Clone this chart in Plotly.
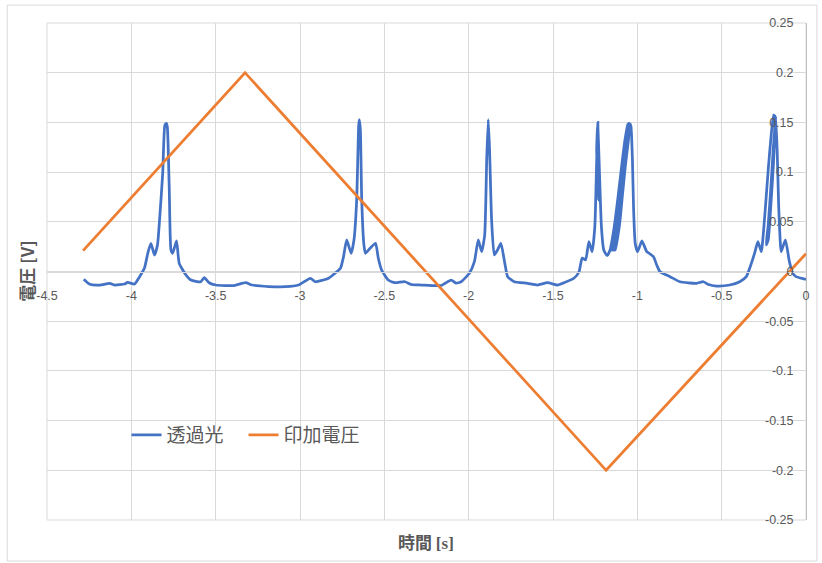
import plotly.graph_objects as go

# 透過光: time [s] and detector voltage [V]
light_t = [
    -4.282, -4.246, -4.187, -4.128, -4.099, -4.040, -4.022, -3.981,
    -3.951, -3.922, -3.902, -3.884, -3.863, -3.845, -3.834, -3.814,
    -3.801, -3.792, -3.786, -3.775, -3.765, -3.755, -3.732, -3.716,
    -3.676, -3.647, -3.588, -3.568, -3.539, -3.499, -3.391, -3.322,
    -3.285, -3.185, -3.086, -3.008, -2.939, -2.909, -2.831, -2.784,
    -2.760, -2.742, -2.723, -2.697, -2.680, -2.664, -2.652, -2.648,
    -2.642, -2.634, -2.621, -2.612, -2.583, -2.552, -2.536, -2.516,
    -2.477, -2.437, -2.378, -2.341, -2.281, -2.163, -2.104, -2.076,
    -2.045, -1.996, -1.966, -1.943, -1.923, -1.905, -1.893, -1.884,
    -1.876, -1.864, -1.848, -1.829, -1.809, -1.787, -1.769, -1.730,
    -1.651, -1.592, -1.533, -1.474, -1.435, -1.376, -1.346, -1.327,
    -1.307, -1.287, -1.268, -1.252, -1.241, -1.234, -1.229, -1.241,
    -1.235, -1.223, -1.213, -1.199, -1.179,
    # broad peak near -1.06 s (several overlapping sweeps)
    -1.1618, -1.1353, -1.1129, -1.0922, -1.0734, -1.0557,
    -1.0527, -1.0682, -1.0868, -1.1067, -1.1279, -1.1545,
    -1.1471, -1.1206, -1.1005, -1.0813, -1.0630, -1.0498,
    -1.0468, -1.0578, -1.0758, -1.0943, -1.1132, -1.1397,
    -1.1323, -1.1058, -1.0882, -1.0705, -1.0527, -1.0439,
    -1.0380, -1.0291, -1.0221, -1.0126, -0.9985,
    -0.973, -0.944, -0.924, -0.904, -0.885, -0.865, -0.806, -0.747,
    -0.649, -0.609, -0.578, -0.531, -0.452, -0.393, -0.354, -0.324,
    -0.305, -0.285, -0.265,
    # peak near -0.19 s
    -0.2590, -0.2418, -0.2241, -0.2064, -0.1917,
    -0.1828, -0.1946, -0.2094, -0.2241, -0.2359,
    -0.2241, -0.2064, -0.1917, -0.1828, -0.1799,
    -0.1710, -0.1622, -0.1533, -0.1474,
    -0.1221, -0.0985, -0.0784, -0.0590, -0.0100, 0.0,
]
light_v = [
    -0.0078, -0.0129, -0.0136, -0.0120, -0.0136, -0.0126, -0.0109, -0.0126,
    -0.0052, 0.0035, 0.0186, 0.0284, 0.0166, 0.0267, 0.0485, 0.0988,
    0.1474, 0.1490, 0.1444, 0.0820, 0.0216, 0.0183, 0.0307, 0.0082,
    -0.0035, -0.0086, -0.0103, -0.0062, -0.0113, -0.0136, -0.0141, -0.0113,
    -0.0136, -0.0151, -0.0153, -0.0136, -0.0068, -0.0103, -0.0068, -0.0005,
    0.0032, 0.0149, 0.0317, 0.0183, 0.0317, 0.0719, 0.1474, 0.1529,
    0.1424, 0.0719, 0.0267, 0.0183, 0.0236, 0.0284, 0.0136, 0.0015,
    -0.0086, -0.0113, -0.0103, -0.0131, -0.0136, -0.0141, -0.0086, -0.0116,
    -0.0103, -0.0018, 0.0099, 0.0317, 0.0199, 0.0367, 0.1122, 0.1529,
    0.1222, 0.0518, 0.0166, 0.0216, 0.0284, 0.0096, -0.0052, -0.0103,
    -0.0119, -0.0136, -0.0113, -0.0136, -0.0113, -0.0068, -0.0005, 0.0136,
    0.0116, 0.0300, 0.0199, 0.0451, 0.1122, 0.1500, 0.0719, 0.1222,
    0.1484, 0.0920, 0.0451, 0.0216, 0.0159,
    0.0216, 0.0468, 0.0770, 0.1071, 0.1323, 0.1484,
    0.1484, 0.1323, 0.1071, 0.0770, 0.0468, 0.0216,
    0.0216, 0.0468, 0.0770, 0.1071, 0.1323, 0.1491,
    0.1484, 0.1323, 0.1071, 0.0770, 0.0468, 0.0216,
    0.0216, 0.0468, 0.0770, 0.1071, 0.1323, 0.1484,
    0.1464, 0.1122, 0.0619, 0.0284, 0.0199,
    0.0307, 0.0199, 0.0176, 0.0149, 0.0065, -0.0002, -0.0052, -0.0103,
    -0.0119, -0.0103, -0.0131, -0.0146, -0.0136, -0.0103, -0.0052, 0.0082,
    0.0183, 0.0300, 0.0199,
    0.0267, 0.0619, 0.1021, 0.1373, 0.1574,
    0.1554, 0.1222, 0.0820, 0.0468, 0.0267,
    0.0317, 0.0719, 0.1122, 0.1474, 0.1564,
    0.1222, 0.0669, 0.0317, 0.0199,
    0.0317, 0.0099, -0.0018, -0.0052, -0.0075, -0.0080,
]

# 印加電圧: triangle sweep turning points
volt_t = [-4.286, -3.326, -1.185, 0.0]
volt_v = [0.021, 0.200, -0.200, 0.018]

x_tick_vals = [-4.5, -4.0, -3.5, -3.0, -2.5, -2.0, -1.5, -1.0, -0.5, 0.0]
x_tick_text = ["-4.5", "-4", "-3.5", "-3", "-2.5", "-2", "-1.5", "-1", "-0.5", "0"]
y_tick_vals = [0.25, 0.2, 0.15, 0.1, 0.05, 0.0, -0.05, -0.1, -0.15, -0.2, -0.25]
y_tick_text = ["0.25", "0.2", "0.15", "0.1", "0.05", "0",
               "-0.05", "-0.1", "-0.15", "-0.2", "-0.25"]

GRID = "#d9d9d9"
TEXT = "#595959"
CJK = "Noto Sans CJK JP"

fig = go.Figure()
fig.add_trace(go.Scatter(
    x=light_t, y=light_v, mode="lines", name="透過光",
    line=dict(color="#4472C4", width=2.75, shape="spline", smoothing=0.5),
))
fig.add_trace(go.Scatter(
    x=volt_t, y=volt_v, mode="lines", name="印加電圧",
    line=dict(color="#ED7D31", width=2.75),
))

fig.update_layout(
    width=822, height=563,
    margin=dict(l=47, r=12, t=23, b=43),
    paper_bgcolor="white", plot_bgcolor="white",
    font=dict(family="Liberation Sans", size=12.5, color=TEXT),
    showlegend=True,
    legend=dict(
        orientation="h", x=0.1048, y=0.171, xanchor="left", yanchor="middle",
        bgcolor="rgba(0,0,0,0)", entrywidth=72, entrywidthmode="pixels",
        font=dict(family=CJK, size=19, color=TEXT),
    ),
    xaxis=dict(
        range=[-4.5, 0], tickvals=x_tick_vals, ticktext=x_tick_text,
        showgrid=True, gridcolor=GRID, gridwidth=1, zeroline=False,
        showline=True, linecolor=GRID, linewidth=1,
        anchor="free", position=0.5, ticks="", ticklabelstandoff=12,
        tickfont=dict(family="Liberation Sans", size=12.5, color=TEXT),
    ),
    yaxis=dict(
        range=[-0.25, 0.25], tickvals=y_tick_vals, ticktext=y_tick_text,
        showgrid=True, gridcolor=GRID, gridwidth=1, zeroline=False,
        showline=True, linecolor="#bfbfbf", linewidth=1,
        side="right", ticklabelposition="inside", ticks="",
        ticklabelstandoff=12, ticklabeloverflow="allow",
        tickfont=dict(family="Liberation Sans", size=12.5, color=TEXT),
    ),
    annotations=[
        dict(text="<b>電圧 [V]</b>", xref="paper", yref="paper",
             x=-0.0275, y=0.5, xanchor="center", yanchor="middle",
             textangle=-90, showarrow=False,
             font=dict(family=CJK, size=17, color=TEXT)),
        dict(text="<b>時間 <span style='font-family:Liberation Serif'>[s]</span></b>",
             xref="paper", yref="paper", x=0.4993, y=-0.0423,
             xanchor="center", yanchor="middle",
             showarrow=False, font=dict(family=CJK, size=17, color=TEXT)),
    ],
    shapes=[
        # outer chart frame
        dict(type="rect", xref="paper", yref="paper",
             x0=-0.0524, x1=1.0144, y0=-0.0825, y1=1.036,
             line=dict(color=GRID, width=1), layer="below"),
        # grid lines on the plot-area edges
        dict(type="rect", xref="x domain", yref="y domain",
             x0=0, x1=1, y0=0, y1=1,
             line=dict(color=GRID, width=1), layer="below"),
    ],
)

fig.write_html("out.html")
